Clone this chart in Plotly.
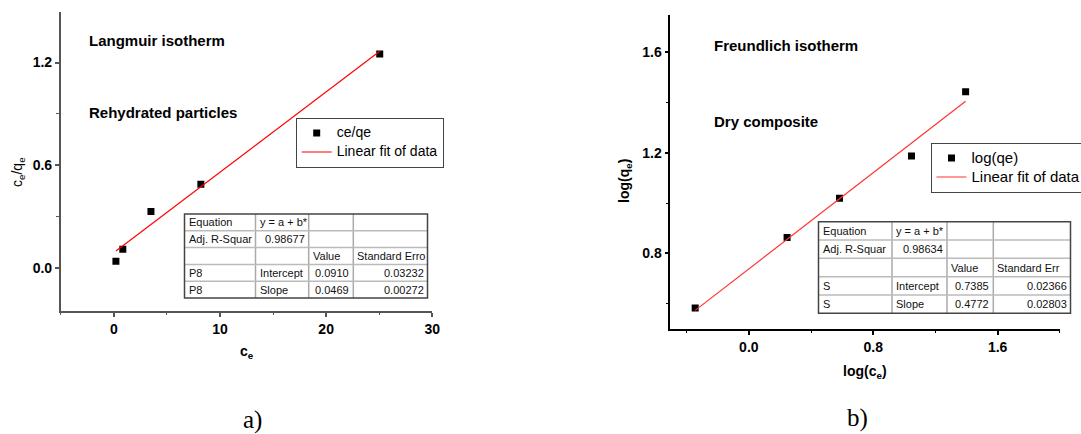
import plotly.graph_objects as go

W, H = 1081, 434

# ---------------- data ----------------
# Panel a: Langmuir isotherm (rehydrated particles)
ce_a = [0.2, 0.85, 3.5, 8.2, 25.05]
ceqe_a = [0.04, 0.11, 0.33, 0.49, 1.25]
intercept_a = 0.0910
slope_a = 0.0469

# Panel b: Freundlich isotherm (dry composite)
logce_b = [-0.345, 0.246, 0.583, 1.046, 1.394]
logqe_b = [0.583, 0.863, 1.019, 1.186, 1.441]
intercept_b = 0.7385
slope_b = 0.4772

legend_a_names = ["ce/qe", "Linear fit of data"]
legend_b_names = ["log(qe)", "Linear fit of data"]

table_a = [
    ["Equation", "y = a + b*", "", ""],
    ["Adj. R-Squar", "0.98677", "", ""],
    ["", "", "Value", "Standard Erro"],
    ["P8", "Intercept", "0.0910", "0.03232"],
    ["P8", "Slope", "0.0469", "0.00272"],
]
table_b = [
    ["Equation", "y = a + b*", "", ""],
    ["Adj. R-Squar", "0.98634", "", ""],
    ["", "", "Value", "Standard Err"],
    ["S", "Intercept", "0.7385", "0.02366"],
    ["S", "Slope", "0.4772", "0.02803"],
]

# ---------------- helpers ----------------
def px(x):
    return x / W


def py(y):
    return 1 - y / H


FONT = "Liberation Sans, Arial, sans-serif"
SERIF = "Liberation Serif, Times New Roman, serif"


def big(s, size):
    return f"<span style='font-size:{size}px'>{s}</span>"


fig = go.Figure()

xa = [min(ce_a), max(ce_a)]
fig.add_trace(go.Scatter(x=ce_a, y=ceqe_a, mode="markers", name=big(legend_a_names[0], 14),
                         marker=dict(symbol="square", size=7, color="black"),
                         xaxis="x", yaxis="y", legend="legend"))
fig.add_trace(go.Scatter(x=xa, y=[intercept_a + slope_a * v for v in xa], mode="lines",
                         name=big(legend_a_names[1], 14), line=dict(color="red", width=1.2),
                         xaxis="x", yaxis="y", legend="legend"))

xb = [min(logce_b), max(logce_b)]
fig.add_trace(go.Scatter(x=logce_b, y=logqe_b, mode="markers", name=big(legend_b_names[0], 15),
                         marker=dict(symbol="square", size=7, color="black"),
                         xaxis="x2", yaxis="y2", legend="legend2"))
fig.add_trace(go.Scatter(x=xb, y=[intercept_b + slope_b * v for v in xb], mode="lines",
                         name=big(legend_b_names[1], 15), line=dict(color="#ff3333", width=1.2),
                         xaxis="x2", yaxis="y2", legend="legend2"))


def axis_style(color, dtick, minor_dtick, tick0):
    return dict(showline=True, linecolor=color, linewidth=1.5, mirror=False,
                ticks="outside", ticklen=4, tickwidth=1.5, tickcolor=color,
                dtick=dtick, tick0=tick0,
                minor=dict(ticks="outside", ticklen=2.5, tickwidth=1.2, tickcolor=color,
                           dtick=minor_dtick, tick0=tick0, showgrid=False),
                showgrid=False, zeroline=False,
                tickfont=dict(family=FONT, size=14, color="black", weight="bold"))


fig.update_layout(
    width=W, height=H,
    margin=dict(l=0, r=0, t=0, b=0, autoexpand=False),
    paper_bgcolor="white", plot_bgcolor="white",
    xaxis=dict(domain=[px(60.7), px(432.3)], range=[-5, 30], anchor="y",
               **axis_style("#555", 10, 5, 0), tickformat="d"),
    yaxis=dict(domain=[py(311), py(12)], range=[-0.25, 1.495], anchor="x",
               **axis_style("#555", 0.6, 0.3, 0), tickformat=".1f"),
    xaxis2=dict(domain=[px(670.3), px(1060)], range=[-0.505, 2.001], anchor="y2",
                **axis_style("black", 0.8, 0.4, 0), tickformat=".1f"),
    yaxis2=dict(domain=[py(329), py(15)], range=[0.5, 1.746], anchor="x2",
                **axis_style("black", 0.4, 0.2, 0), tickformat=".1f"),
    legend=dict(x=px(295.7), y=py(117.5), xanchor="left", yanchor="top",
                bgcolor="white", bordercolor="#444", borderwidth=1,
                font=dict(family=FONT, size=10.5, color="black")),
    legend2=dict(x=px(930.5), y=py(142.5), xanchor="left", yanchor="top",
                 bgcolor="white", bordercolor="#444", borderwidth=1,
                 font=dict(family=FONT, size=11.8, color="black")),
    showlegend=True,
)

annotations = []
shapes = []


def text(x, y, s, size=15, bold=True, family=FONT, xanchor="left", angle=0, color="black"):
    annotations.append(dict(x=px(x), y=py(y), xref="paper", yref="paper", text=s,
                            showarrow=False, xanchor=xanchor, yanchor="middle", textangle=angle,
                            font=dict(family=family, size=size, color=color,
                                      weight="bold" if bold else "normal")))


# panel labels / titles
text(87, 41, "Langmuir isotherm")
text(87, 113, "Rehydrated particles")
text(712, 46, "Freundlich isotherm")
text(712, 121, "Dry composite")

# axis titles
text(246.5, 352, "c<sub>e</sub>", size=14, xanchor="center")
text(18, 172, "c<sub>e</sub>/q<sub>e</sub>", size=14, bold=False, xanchor="center", angle=-90)
text(865, 372, "log(c<sub>e</sub>)", size=14, xanchor="center")
text(625, 181, "log(q<sub>e</sub>)", size=14, xanchor="center", angle=-90)

# sub-figure labels
text(252, 420, "a)", size=25, bold=False, family=SERIF, xanchor="center")
text(857, 418, "b)", size=25, bold=False, family=SERIF, xanchor="center")


def is_num(s):
    try:
        float(s)
        return True
    except ValueError:
        return False


def draw_table(rows, cols, top, bottom):
    n = len(rows)
    edges = [top + (bottom - top) * i / n for i in range(n + 1)]
    shapes.append(dict(type="rect", xref="paper", yref="paper", x0=px(cols[0]), x1=px(cols[-1]),
                       y0=py(top), y1=py(bottom), fillcolor="white", line=dict(width=0),
                       layer="above"))
    for c in cols[1:-1]:
        shapes.append(dict(type="line", xref="paper", yref="paper", x0=px(c), x1=px(c),
                           y0=py(top), y1=py(bottom), line=dict(color="#aaa", width=1.5),
                           layer="above"))
    for e in edges[1:-1]:
        shapes.append(dict(type="line", xref="paper", yref="paper", x0=px(cols[0]), x1=px(cols[-1]),
                           y0=py(e), y1=py(e), line=dict(color="#bbb", width=1.5),
                           layer="above"))
    shapes.append(dict(type="rect", xref="paper", yref="paper", x0=px(cols[0]), x1=px(cols[-1]),
                       y0=py(top), y1=py(bottom), line=dict(color="#444", width=1.5),
                       layer="above"))
    for i, row in enumerate(rows):
        yc = (edges[i] + edges[i + 1]) / 2
        for j, s in enumerate(row):
            if not s:
                continue
            if is_num(s):
                text(cols[j + 1] - 2, yc, s, size=11, bold=False, xanchor="right", color="#111")
            else:
                text(cols[j] + 2, yc, s, size=11, bold=False, xanchor="left", color="#111")


draw_table(table_a, [184.5, 255.5, 308.7, 353.3, 427.5], 214, 298)
draw_table(table_b, [818.5, 892, 947, 993.3, 1070.5], 221.7, 313.3)

fig.update_layout(annotations=annotations, shapes=shapes)

fig.write_html("out.html")
